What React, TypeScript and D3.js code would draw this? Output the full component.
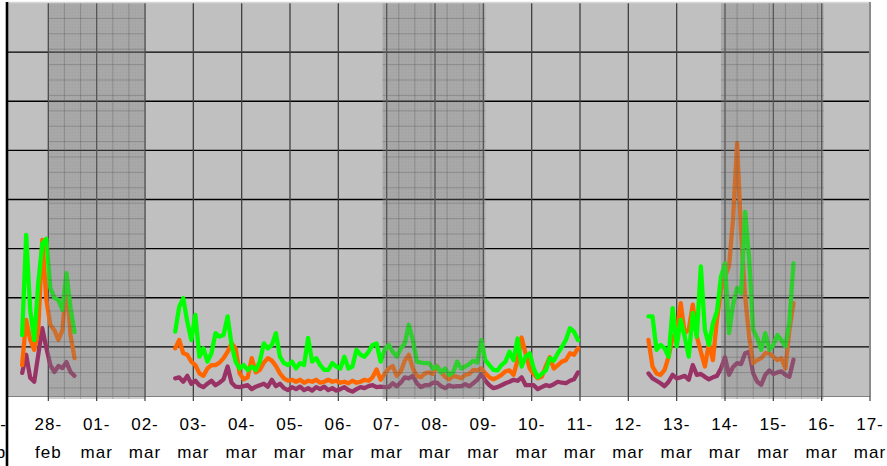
import React from "react";
import * as d3 from "d3";

// Day tick labels (27-feb .. 17-mar), one tick every 24 h starting at hour 0 = 27-feb 00:00
const dayLabels = ["27-", "28-", "01-", "02-", "03-", "04-", "05-", "06-", "07-", "08-", "09-", "10-", "11-", "12-", "13-", "14-", "15-", "16-", "17-"];
const monthLabels = ["feb", "feb", "mar", "mar", "mar", "mar", "mar", "mar", "mar", "mar", "mar", "mar", "mar", "mar", "mar", "mar", "mar", "mar", "mar"];

// Weekend shading (hours from 27-feb 00:00)
const weekendStart = [24, 190, 358];
const weekendEnd = [72, 241, 409];

// Segment 1: starts 27-feb 11:00, every 2 h
const seg1Start = 11;
const seg1Green = [12.4, 32.8, 17.5, 11.4, 23.0, 31.0, 32.0, 22.0, 20.0, 19.5, 17.5, 25.0, 18.0, 13.0];
const seg1Orange = [6.3, 15.5, 11.4, 9.4, 13.4, 31.8, 19.6, 14.5, 13.4, 11.4, 13.4, 23.6, 12.4, 7.7];
const seg1Purple = [4.7, 8.4, 3.7, 2.9, 8.4, 13.8, 9.8, 6.3, 4.9, 6.1, 5.7, 6.9, 4.9, 4.1];

// Segment 2: starts 02-mar 15:00, every 2 h
const seg2Start = 87;
const seg2Green = [
  13.1, 18.2, 19.9, 15.1, 11.4, 16.5, 8.0, 9.7, 7.0, 8.7,
  12.8, 12.1, 12.4, 16.2, 10.4, 7.0, 5.6, 6.3, 5.3, 6.0,
  5.3, 7.0, 10.7, 9.7, 10.4, 12.8, 8.0, 6.7, 6.3, 7.0,
  5.6, 6.7, 6.3, 11.8, 7.0, 7.7, 6.3, 5.3, 5.3, 6.7,
  6.0, 5.6, 8.0, 5.6, 6.0, 9.4, 8.4, 8.0, 9.0, 10.4,
  10.7,
  7.0, 9.4, 10.4, 9.0, 8.0, 9.7, 10.7, 14.5, 11.4, 7.0,
  6.8, 6.7, 6.7, 5.6, 6.0, 4.8, 5.6, 4.3, 4.8, 7.0,
  5.6, 6.0, 6.5, 7.2, 6.8, 11.4, 7.3, 6.3, 5.3, 5.2,
  6.3, 7.0, 9.0, 7.3, 11.7, 6.0, 8.0, 8.7, 5.6, 3.8,
  4.5, 5.2, 7.7, 7.2, 8.7, 10.0, 11.4, 13.8, 13.1, 11.4,
];
const seg2Orange = [
  9.7, 11.4, 8.7, 8.4, 7.0, 6.3, 4.6, 4.1, 5.6, 6.3,
  6.3, 6.8, 7.7, 9.0, 10.7, 9.7, 4.6, 3.4, 3.8, 7.7,
  4.8, 5.3, 6.8, 7.7, 7.2, 6.1, 4.6, 3.6, 3.1, 3.3,
  2.9, 3.3, 2.7, 3.1, 2.9, 3.3, 2.7, 2.9, 3.3, 2.9,
  3.1, 2.7, 2.9, 2.6, 3.1, 2.7, 2.9, 3.3, 3.1, 3.8,
  5.4,
  3.3, 4.5, 5.6, 6.1, 4.1, 5.0, 7.2, 8.4, 5.6, 4.1,
  3.8, 4.6, 4.8, 4.5, 6.1, 4.8, 3.9, 3.4, 4.1, 3.9,
  3.6, 4.3, 4.5, 5.3, 5.2, 5.6, 4.6, 3.8, 3.4, 3.8,
  4.3, 5.0, 5.2, 4.3, 7.3, 11.9, 8.6, 5.6, 4.5, 3.6,
  3.9, 6.0, 7.9, 5.6, 6.3, 7.0, 7.3, 8.7, 8.4, 9.7,
];
const seg2Purple = [
  3.6, 3.8, 2.9, 4.1, 2.5, 3.1, 2.2, 1.8, 2.5, 3.1,
  2.2, 2.7, 3.4, 6.0, 2.7, 1.9, 1.8, 2.0, 2.2, 1.4,
  1.9, 2.2, 2.5, 1.9, 3.3, 2.0, 2.5, 1.6, 1.2, 1.8,
  1.4, 1.9, 1.2, 1.6, 1.1, 1.8, 1.4, 1.9, 1.2, 1.6,
  1.1, 1.4, 1.8, 1.2, 0.9, 1.4, 1.8, 1.6, 2.0, 2.2,
  1.8,
  1.9, 1.8, 1.8, 2.6, 2.0, 2.7, 3.8, 3.6, 4.1, 2.6,
  1.8, 2.2, 2.2, 2.7, 2.7, 2.0, 1.6, 2.2, 1.9, 2.0,
  2.0, 2.4, 2.0, 2.6, 3.3, 4.5, 3.1, 2.2, 1.6, 1.8,
  2.2, 2.6, 2.9, 3.3, 3.1, 3.8, 2.2, 2.2, 2.2, 1.4,
  1.8, 2.2, 2.0, 2.4, 2.9, 2.7, 2.6, 3.1, 3.4, 4.8,
];

// Segment 3: starts 12-mar 10:00, every 2 h
const seg3Start = 322;
const seg3Green = [
  16.2, 16.2, 9.4, 10.4, 9.7, 8.0, 17.9, 10.1, 15.5, 12.1,
  8.0, 16.9, 12.1, 26.4, 13.5, 10.4, 14.8, 17.2, 24.3, 27.0,
  12.8, 18.6, 22.0, 20.9, 37.5, 28.0, 13.5, 11.8, 9.4, 12.8,
  9.4, 10.4, 12.4, 11.4, 10.1, 15.2, 27.0,
];
const seg3Orange = [
  11.4, 6.0, 4.6, 4.3, 5.3, 8.0, 12.1, 12.8, 18.9, 12.8,
  13.5, 18.6, 12.1, 9.0, 6.0, 10.7, 7.3, 15.5, 21.6, 24.3,
  26.4, 36.0, 51.5, 33.1, 20.2, 12.1, 6.7, 7.3, 7.7, 8.7,
  8.7, 8.0, 7.3, 7.7, 5.6, 13.5, 18.9,
];
const seg3Purple = [
  4.6, 3.6, 3.1, 2.6, 2.0, 2.9, 4.3, 3.6, 3.8, 4.1,
  3.3, 6.3, 4.3, 4.5, 3.9, 3.4, 3.8, 4.1, 5.6, 7.9,
  4.3, 5.9, 6.7, 6.5, 8.7, 9.0, 4.6, 2.9, 2.3, 4.3,
  5.2, 4.5, 4.8, 5.0, 4.3, 3.9, 7.4,
];

const STEP = 2;
const seriesColors = { purple: "#993366", orange: "#ff6600", green: "#00ff00" };

type Seg = { start: number; values: number[] };
const greenSegs: Seg[] = [
  { start: seg1Start, values: seg1Green },
  { start: seg2Start, values: seg2Green },
  { start: seg3Start, values: seg3Green },
];
const orangeSegs: Seg[] = [
  { start: seg1Start, values: seg1Orange },
  { start: seg2Start, values: seg2Orange },
  { start: seg3Start, values: seg3Orange },
];
const purpleSegs: Seg[] = [
  { start: seg1Start, values: seg1Purple },
  { start: seg2Start, values: seg2Purple },
  { start: seg3Start, values: seg3Purple },
];

export default function App() {
  const W = 887;
  const H = 466;
  const plotLeft = 7;
  const plotRight = 870;
  const plotTop = 3;
  const plotBottom = 396;

  const x = d3.scaleLinear().domain([0, 432]).range([0, 870]);
  const y = d3.scaleLinear().domain([0, 80]).range([plotBottom, plotTop]);

  const line = d3
    .line<[number, number]>()
    .x((d) => x(d[0]))
    .y((d) => y(d[1]));

  const segPath = (s: Seg) =>
    line(s.values.map((v, i) => [s.start + i * STEP, v] as [number, number])) || "";

  const dayHours = d3.range(0, 433, 24);
  const innerDayHours = dayHours.filter((h) => x(h) > plotLeft + 1 && x(h) < plotRight - 1);
  const yGrid = d3.range(10, 80, 10);

  const minorY = d3.range(plotTop + 15.4, plotBottom + 3, 15.4);

  return (
    <svg
      width={W}
      height={H}
      style={{ position: "absolute", left: 0, top: 0, background: "#ffffff" }}
      fontFamily="'Liberation Sans', Arial, sans-serif"
    >
      <defs>
        <clipPath id="plotClip">
          <rect x={plotLeft} y={plotTop} width={plotRight - plotLeft} height={plotBottom - plotTop} />
        </clipPath>
        <pattern id="dots" width="3" height="3" patternUnits="userSpaceOnUse">
          <rect width="3" height="3" fill="#808080" />
          <rect width="1" height="1" fill="#6a6a6a" />
        </pattern>
      </defs>

      {/* plot background */}
      <rect x={plotLeft} y={plotTop} width={plotRight - plotLeft} height={plotBottom - plotTop} fill="#c0c0c0" />

      {/* horizontal gridlines */}
      {yGrid.map((v) => (
        <line key={"hy" + v} x1={plotLeft} x2={plotRight} y1={y(v)} y2={y(v)} stroke="#000" strokeWidth={1.4} />
      ))}
      {/* vertical day gridlines */}
      {innerDayHours.map((h) => (
        <line key={"vx" + h} x1={x(h)} x2={x(h)} y1={plotTop} y2={plotBottom} stroke="#404040" strokeWidth={1.3} />
      ))}

      {/* data lines */}
      <g clipPath="url(#plotClip)" fill="none" strokeWidth={4.3} strokeLinejoin="round" strokeLinecap="round">
        {purpleSegs.map((s, i) => (
          <path key={"p" + i} d={segPath(s)} stroke={seriesColors.purple} />
        ))}
        {orangeSegs.map((s, i) => (
          <path key={"o" + i} d={segPath(s)} stroke={seriesColors.orange} />
        ))}
        {greenSegs.map((s, i) => (
          <path key={"g" + i} d={segPath(s)} stroke={seriesColors.green} />
        ))}
      </g>

      {/* weekend shading (semi-transparent, on top) */}
      {weekendStart.map((s, i) => {
        const e = weekendEnd[i];
        const x0 = x(s);
        const x1 = x(e);
        const minorX = d3.range(s + 8, e - 1, 8).filter((h) => h % 24 !== 0);
        return (
          <g key={"w" + i}>
            <rect x={x0} y={plotTop} width={x1 - x0} height={plotBottom + 3 - plotTop} fill="url(#dots)" opacity={0.37} />
            {minorX.map((h) => (
              <line key={"mx" + h} x1={x(h)} x2={x(h)} y1={plotTop} y2={plotBottom + 3} stroke="#555" strokeOpacity={0.35} strokeWidth={1} />
            ))}
            {minorY.map((yy, j) => (
              <line key={"my" + j} x1={x0} x2={x1} y1={yy} y2={yy} stroke="#555" strokeOpacity={0.35} strokeWidth={1} />
            ))}
          </g>
        );
      })}

      {/* borders */}
      <line x1={plotLeft} x2={plotRight + 1} y1={2.5} y2={2.5} stroke="#d6d6d6" strokeWidth={1.5} />
      <line x1={plotRight} x2={plotRight} y1={2} y2={plotBottom} stroke="#8c8c8c" strokeWidth={2} />
      <line x1={plotLeft} x2={plotRight} y1={plotBottom + 0.5} y2={plotBottom + 0.5} stroke="#808080" strokeWidth={1} />

      {/* x ticks */}
      {dayHours
        .filter((h) => x(h) > plotLeft + 1)
        .map((h) => (
          <line key={"t" + h} x1={x(h)} x2={x(h)} y1={plotBottom} y2={plotBottom + 5} stroke="#404040" strokeWidth={1.2} />
        ))}

      {/* x labels */}
      {dayHours.map((h, i) => {
        const cx = i === 0 ? -7 : x(h);
        return (
          <g key={"l" + h} fontSize={17} letterSpacing={1} textAnchor="middle" fill="#000">
            <text x={cx} y={430}>{dayLabels[i]}</text>
            <text x={cx} y={458}>{monthLabels[i]}</text>
          </g>
        );
      })}

      {/* left axis */}
      <line x1={7} x2={7} y1={2} y2={H} stroke="#000" strokeWidth={2.6} />
    </svg>
  );
}
